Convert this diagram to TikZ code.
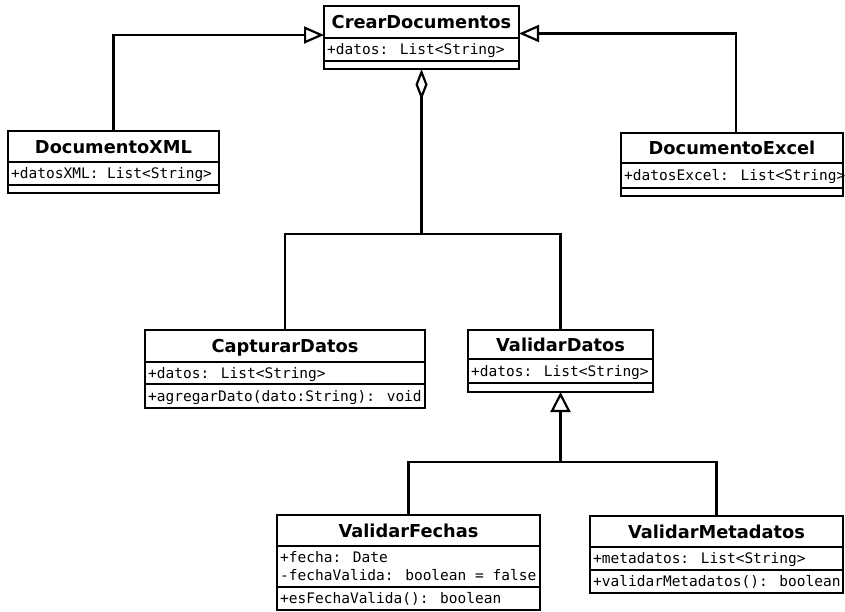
\documentclass[tikz,border=0pt]{standalone}
\usepackage{fontspec}
\newfontfamily\titlefont{DejaVu Sans}
\newfontfamily\attrfont{DejaVu Sans Mono}
\usetikzlibrary{arrows.meta}
\tikzset{
  classbox/.style={draw, line width=2.2pt, inner sep=0pt, outer sep=0pt, fill=white},
  sepline/.style={line width=2.2pt},
  titletext/.style={inner sep=0pt, anchor=base, font=\titlefont\bfseries\fontsize{17.8}{21}\selectfont},
  attrtext/.style={inner sep=0pt, anchor=base west, font=\attrfont\fontsize{14.5}{18}\selectfont},
  conn/.style={line width=2.2pt},
  gentip/.style={-{Triangle[open, length=20pt, width=17pt]}},
  aggtip/.style={-{Diamond[open, length=31pt, width=12pt]}}
}
% #1 name, #2 L, #3 T, #4 R, #5 y1, #6 y2, #7 B
\newcommand{\umlbox}[7]{%
  \node[classbox, minimum width={(#4-#2)*1pt}, minimum height={(#7-#3)*1pt}] (#1) at ({(#2+#4)/2},{(#3+#7)/2}) {};
  \draw[sepline] (#2,#5) -- (#4,#5);
  \draw[sepline] (#2,#6) -- (#4,#6);
}
\begin{document}
\begin{tikzpicture}[x=1pt, y=-1pt]
\fill[white] (0,0) rectangle (845,611);
\useasboundingbox (0,0) rectangle (845,611);

% classes
\umlbox{cd}{324}{6}{519}{38}{61}{69}
\node[titletext] (cdT) at (421.5,28.5) {CrearDocumentos};
\node[attrtext] (cdA) at (327,54.5) {+datos: List<String>};

\umlbox{xml}{8}{131}{219}{162}{185}{193}
\node[titletext] (xmlT) at (113.5,153) {DocumentoXML};
\node[attrtext] (xmlA) at (11,178.5) {+datosXML: List<String>};

\umlbox{excel}{621}{133}{843}{163}{188}{196}
\node[titletext] (excelT) at (732,154.5) {DocumentoExcel};
\node[attrtext] (excelA) at (624,180.5) {+datosExcel: List<String>};

\umlbox{cap}{145}{330}{425}{362}{384}{408}
\node[titletext] (capT) at (285,352.5) {CapturarDatos};
\node[attrtext] (capA) at (148,378) {+datos: List<String>};
\node[attrtext] (capM) at (148,401) {+agregarDato(dato:String): void};

\umlbox{val}{468}{330}{653}{359}{383}{392}
\node[titletext] (valT) at (560.5,351) {ValidarDatos};
\node[attrtext] (valA) at (471,376) {+datos: List<String>};

\umlbox{vf}{277}{515}{540}{546}{587}{610}
\node[titletext] (vfT) at (408.5,537) {ValidarFechas};
\node[attrtext] (vfA1) at (280,562) {+fecha: Date};
\node[attrtext] (vfA2) at (280,580) {-fechaValida: boolean = false};
\node[attrtext] (vfM) at (280,603.5) {+esFechaValida(): boolean};

\umlbox{vm}{590}{516}{843}{547}{570}{593}
\node[titletext] (vmT) at (716.5,538) {ValidarMetadatos};
\node[attrtext] (vmA) at (593,563.5) {+metadatos: List<String>};
\node[attrtext] (vmM) at (593,586.5) {+validarMetadatos(): boolean};

% generalizations to CrearDocumentos
\draw[conn, gentip] (xml.north) |- ([yshift=2.5pt]cd.west);
\draw[conn, gentip] ([xshift=4pt]excel.north) |- ([yshift=4pt]cd.east);

% aggregation
\coordinate (y234) at (0,234);
\coordinate (aggj) at (cd.south |- y234);
\draw[conn, aggtip] (aggj) -- (cd.south);
\draw[conn] (cap.north) -- (cap.north |- y234) -- (val.north |- y234) -- (val.north);

% generalization to ValidarDatos
\coordinate (y462) at (0,462);
\coordinate (genj) at (val.south |- y462);
\draw[conn, -{Triangle[open, length=20pt, width=20pt]}] (genj) -- (val.south);
\draw[conn] (vf.north) -- (vf.north |- y462) -- (vm.north |- y462) -- (vm.north);
\end{tikzpicture}
\end{document}
